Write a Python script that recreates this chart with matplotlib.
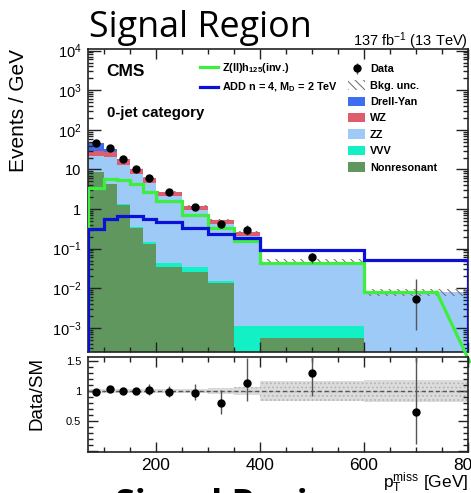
import numpy as np
import matplotlib
matplotlib.use("Agg")
import matplotlib.pyplot as plt
from matplotlib.patches import Patch
from matplotlib.lines import Line2D
from matplotlib.ticker import MultipleLocator, FixedLocator, FixedFormatter, LogLocator, NullFormatter

plt.rcParams['font.family'] = ['Liberation Sans', 'DejaVu Sans']
plt.rcParams['mathtext.fontset'] = 'custom'
plt.rcParams['mathtext.rm'] = 'Liberation Sans'
plt.rcParams['mathtext.it'] = 'Liberation Sans:italic'
plt.rcParams['mathtext.bf'] = 'Liberation Sans:bold'
plt.rcParams['hatch.linewidth'] = 0.8

# binning in pTmiss [GeV]
edges = np.array([70, 100, 125, 150, 175, 200, 250, 300, 350, 400, 600, 800])

# backgrounds, events / GeV
nonres = np.array([8.7, 4.2, 1.26, 0.337, 0.13, 0.035, 0.026, 0.0138, 0.0, 0.00056, 0.0])
vvv = np.array([0.1, 0.1, 0.05, 0.02, 0.019, 0.009, 0.008, 0.0017, 0.00112, 0.00057, 0.0])
zz = np.array([13.2, 16.7, 11.6, 7.4, 4.5, 2.1, 0.906, 0.414, 0.209, 0.0449, 0.0079])
wz = np.array([7.0, 6.0, 5.0, 2.4, 1.4, 0.57, 0.23, 0.09, 0.048, 0.0, 0.0])
dy = np.array([17.0, 5.7, 0.2, 0.1, 0.05, 0.02, 0.01, 0.005, 0.002, 0.0, 0.0])
bkg_rel_unc = np.array([0.03, 0.03, 0.03, 0.03, 0.03, 0.035, 0.04, 0.05, 0.07, 0.17, 0.19])

# signals
zh_inv = np.array([3.3, 5.7, 5.4, 4.2, 2.73, 1.55, 0.70, 0.325, 0.158, 0.044, 0.0079])
zh_tail_x = [740, 803]
zh_tail_y = [0.0079, 1.4e-4]
add_n4 = np.array([0.31, 0.57, 0.68, 0.68, 0.56, 0.46, 0.33, 0.235, 0.19, 0.092, 0.0515])

# data
data = np.array([45.5, 34.0, 18.0, 10.2, 6.2, 2.7, 1.14, 0.42, 0.295, 0.060, 0.0052])
data_up = np.array([0.9, 1.0, 0.55, 0.3, 0.6, 0.25, 0.18, 0.11, 0.107, 0.016, 0.012])
data_dn = np.array([0.9, 1.0, 0.55, 0.3, 0.5, 0.22, 0.14, 0.095, 0.08, 0.0175, 0.0043])

ytick_vals = [1e-3, 1e-2, 1e-1, 1, 10, 1e2, 1e3, 1e4]
ytick_labels = [r'$10^{-3}$', r'$10^{-2}$', r'$10^{-1}$', '1', '10',
                r'$10^{2}$', r'$10^{3}$', r'$10^{4}$']

colors = {
    'Drell-Yan': '#3d6ef2',
    'WZ': '#de5d6d',
    'ZZ': '#9dcaf7',
    'VVV': '#12f0c6',
    'Nonresonant': '#5f975f',
}
green = '#3cef3c'
blue = '#0a10d8'

floor = 1e-7
centers = 0.5 * (edges[1:] + edges[:-1])

fig = plt.figure(figsize=(4.71, 4.93), dpi=100)
ax = fig.add_axes([0.1875, 0.2854, 0.806, 0.6142])
axr = fig.add_axes([0.1875, 0.0826, 0.806, 0.1939], sharex=ax)

# stacked backgrounds
layers = [('Nonresonant', nonres), ('VVV', vvv), ('ZZ', zz), ('WZ', wz), ('Drell-Yan', dy)]
bottom = np.full(len(data), floor)
for name, vals in layers:
    top = bottom + vals
    ax.stairs(top, edges, baseline=bottom, fill=True, color=colors[name], lw=0, zorder=1)
    bottom = top
total = bottom

# background uncertainty band
ax.stairs(total * (1 + bkg_rel_unc), edges, baseline=total * (1 - bkg_rel_unc), fill=True,
          facecolor='none', edgecolor='#8a6f73', hatch='\\\\\\\\', lw=0, zorder=2)

# signal lines
xs_g = np.concatenate([np.repeat(edges[:-1], 2), zh_tail_x[:1]])
ys_g = np.concatenate([[floor], np.repeat(zh_inv, 2)[:-1], zh_tail_y[:1]])
ax.plot(xs_g, ys_g, color=green, lw=2.3, zorder=3, solid_joinstyle='miter')
ax.plot(zh_tail_x, zh_tail_y, color=green, lw=2.3, zorder=3, clip_on=False)
xs_b = np.repeat(edges, 2)
ys_b = np.concatenate([[floor], np.repeat(add_n4, 2), [floor]])
ax.plot(xs_b, ys_b, color=blue, lw=2.3, zorder=4, solid_joinstyle='miter')

data_handle = ax.errorbar(centers, data, yerr=[data_dn, data_up], fmt='o', color='black',
                          ecolor='#555555', elinewidth=1, markersize=5, capsize=0, zorder=5)

ax.set_yscale('log')
ax.set_xlim(edges[0], edges[-1])
ax.set_ylim(2.4e-4, 1.07e4)
ax.yaxis.set_major_locator(FixedLocator(ytick_vals))
ax.yaxis.set_major_formatter(FixedFormatter(ytick_labels))
ax.yaxis.set_minor_locator(LogLocator(base=10, subs=np.arange(2, 10), numticks=20))
ax.yaxis.set_minor_formatter(NullFormatter())
ax.xaxis.set_major_locator(MultipleLocator(200))
ax.xaxis.set_minor_locator(MultipleLocator(50))
ax.tick_params(axis='x', labelbottom=False)

for a in (ax, axr):
    a.tick_params(which='both', direction='in', top=True, right=True, width=1, color='#222222')
    a.tick_params(which='major', length=7)
    a.tick_params(which='minor', length=3.5)
    for s in a.spines.values():
        s.set_linewidth(1.2)
        s.set_color('#222222')
ax.tick_params(axis='y', which='major', length=9, labelsize=10.5, pad=5)

ax.set_ylabel('Events / GeV', fontsize=15, loc='top')
ax.yaxis.set_label_coords(-0.16, 1.0)

ax.text(0.048, 0.912, 'CMS', transform=ax.transAxes, fontsize=12.5, fontweight='bold', va='baseline')
ax.text(0.048, 0.776, '0-jet category', transform=ax.transAxes, fontsize=10.8,
        fontweight='bold', va='baseline')

leg_font = {'size': 7.8, 'weight': 'bold'}
sig_handles = [Line2D([], [], color=green, lw=2.3), Line2D([], [], color=blue, lw=2.3)]
sig_labels = [r'Z(ll)h$_{\mathbf{125}}$(inv.)', r'ADD n = 4, M$_{\mathbf{D}}$ = 2 TeV']
leg1 = ax.legend(sig_handles, sig_labels, loc='upper left', bbox_to_anchor=(0.294, 0.963),
                 frameon=False, prop=leg_font, borderpad=0, borderaxespad=0,
                 handlelength=1.65, handletextpad=0.4, labelspacing=0.55)
ax.add_artist(leg1)

bkg_handles = [data_handle,
               Patch(facecolor='none', edgecolor='#777777', hatch='\\\\\\\\', lw=0)]
bkg_labels = ['Data', 'Bkg. unc.']
for name in ['Drell-Yan', 'WZ', 'ZZ', 'VVV', 'Nonresonant']:
    bkg_handles.append(Patch(facecolor=colors[name], lw=0))
    bkg_labels.append(name)
ax.legend(bkg_handles, bkg_labels, loc='upper left', bbox_to_anchor=(0.683, 0.952),
          frameon=False, prop=leg_font, borderpad=0, borderaxespad=0,
          handlelength=1.65, handleheight=0.95, handletextpad=0.4, labelspacing=0.55)

# ratio panel
ratio = data / total
ratio_up = data_up / total
ratio_dn = data_dn / total
axr.stairs(1 + bkg_rel_unc, edges, baseline=1 - bkg_rel_unc, fill=True,
           facecolor='#dcdcdc', edgecolor='#b5b5b5', hatch='....', lw=0, zorder=1)
axr.axhline(1, color='#555555', ls=(0, (3, 2)), lw=1, zorder=2)
axr.errorbar(centers, ratio, yerr=[ratio_dn, ratio_up], fmt='o', color='black',
             ecolor='#555555', elinewidth=1, markersize=5, capsize=0, zorder=3)
axr.set_ylim(-0.02, 1.57)
axr.yaxis.set_major_locator(MultipleLocator(0.5))
axr.yaxis.set_minor_locator(MultipleLocator(0.1))
axr.yaxis.set_major_formatter(FixedFormatter(['', '', '0.5', '1', '1.5']))
axr.tick_params(axis='y', labelsize=8, pad=5)
axr.tick_params(axis='x', labelsize=12.5, pad=4)
axr.set_ylabel('Data/SM', fontsize=13.5, loc='top')
axr.yaxis.set_label_coords(-0.114, 1.0)
axr.set_xlabel(r'$\mathrm{p}_{\mathrm{T}}^{\mathrm{miss}}$ [GeV]', fontsize=12.5, loc='right')
axr.xaxis.set_label_coords(1.0, -0.19)

fig.text(468 / 471, 1 - 46.5 / 493, r'137 fb$^{-1}$ (13 TeV)', ha='right', va='baseline', fontsize=10.5)
fig.text(89 / 471, 1 - 36.7 / 493, 'Signal Region', family='Open Sans', fontsize=25.8,
         ha='left', va='baseline')
fig.text(115 / 471, 1 - 515 / 493, 'Signal Region', family='Open Sans', fontsize=25.8,
         ha='left', va='baseline', fontweight='bold')

fig.savefig('out.png', dpi=100)
